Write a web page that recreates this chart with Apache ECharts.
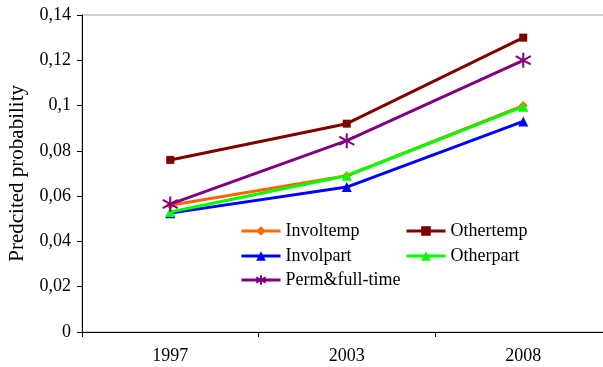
<!DOCTYPE html>
<html>
<head>
<meta charset="utf-8">
<script src="https://cdn.jsdelivr.net/npm/echarts@6/dist/echarts.min.js"></script>
<style>
  html, body { margin: 0; padding: 0; background: #fff; }
  #chart { width: 603px; height: 367px; }
</style>
</head>
<body>
<div id="chart"></div>
<script>
// Survey years on the category axis
const years = ['1997', '2003', '2008'];

// Predicted probability per contract type
const involtemp = [0.056, 0.069, 0.100];
const othertemp = [0.076, 0.092, 0.130];
const involpart = [0.0525, 0.064, 0.093];
const otherpart = [0.053, 0.069, 0.0995];
const permFull = [0.0565, 0.0845, 0.120];

const seriesNames = ['Involtemp', 'Othertemp', 'Involpart', 'Otherpart', 'Perm&full-time'];

const FONT = 'Liberation Serif';
const asterisk = 'path://M10,0L10,20M1.5,4.5L18.5,15.5M1.5,15.5L18.5,4.5';

function line(name, data, color, symbol, size, extra) {
  return Object.assign({
    name: name,
    type: 'line',
    data: data,
    symbol: symbol,
    symbolSize: size,
    showSymbol: true,
    animation: false,
    lineStyle: { color: color, width: 3 },
    itemStyle: { color: color }
  }, extra || {});
}

const chart = echarts.init(document.getElementById('chart'), null, { renderer: 'canvas' });

function legendAt(name, left, top) {
  return {
    data: [name],
    left: left,
    top: top,
    itemWidth: 39,
    itemHeight: 12,
    padding: 0,
    selectedMode: false,
    lineStyle: { width: 3 },
    textStyle: { fontFamily: FONT, fontSize: 18, color: '#000' }
  };
}

chart.setOption({
  animation: false,
  backgroundColor: '#fff',
  textStyle: { fontFamily: FONT },
  grid: {
    left: 82, top: 15, width: 529.5, height: 317,
    outerBoundsMode: 'none',
    containLabel: false,
    show: true, borderColor: '#a6a6a6', borderWidth: 1
  },
  legend: [
    legendAt(seriesNames[0], 240, 222),
    legendAt(seriesNames[1], 405, 222),
    legendAt(seriesNames[2], 240, 247),
    legendAt(seriesNames[3], 405, 247),
    legendAt(seriesNames[4], 240, 271)
  ],
  xAxis: {
    type: 'category',
    data: years,
    boundaryGap: true,
    axisLine: { lineStyle: { color: '#000', width: 1 } },
    axisTick: { show: true, length: 5, lineStyle: { color: '#000' } },
    axisLabel: { color: '#000', fontFamily: FONT, fontSize: 18, margin: 15 },
    splitLine: { show: false }
  },
  yAxis: {
    type: 'value',
    min: 0, max: 0.14, interval: 0.02,
    axisLine: { show: true, lineStyle: { color: '#000', width: 1 } },
    axisTick: { show: true, length: 5, lineStyle: { color: '#000' } },
    axisLabel: {
      color: '#000', fontFamily: FONT, fontSize: 18, margin: 11,
      formatter: v => String(+v.toFixed(2)).replace('.', ',')
    },
    splitLine: { show: false }
  },
  graphic: [{
    type: 'text',
    left: 7,
    top: 85,
    rotation: Math.PI / 2,
    style: {
      text: 'Predcited probability',
      font: '21px "Liberation Serif"',
      fill: '#000'
    }
  }],
  series: [
    line(seriesNames[0], involtemp, '#FF6600', 'diamond', 9),
    line(seriesNames[1], othertemp, '#800000', 'rect', 8),
    line(seriesNames[2], involpart, '#0000FF', 'triangle', 10),
    line(seriesNames[3], otherpart, '#00FF00', 'triangle', 10),
    line(seriesNames[4], permFull, '#800080', asterisk, 15, {
      itemStyle: { color: '#800080', borderColor: '#800080', borderWidth: 2 }
    })
  ]
});
</script>
</body>
</html>
